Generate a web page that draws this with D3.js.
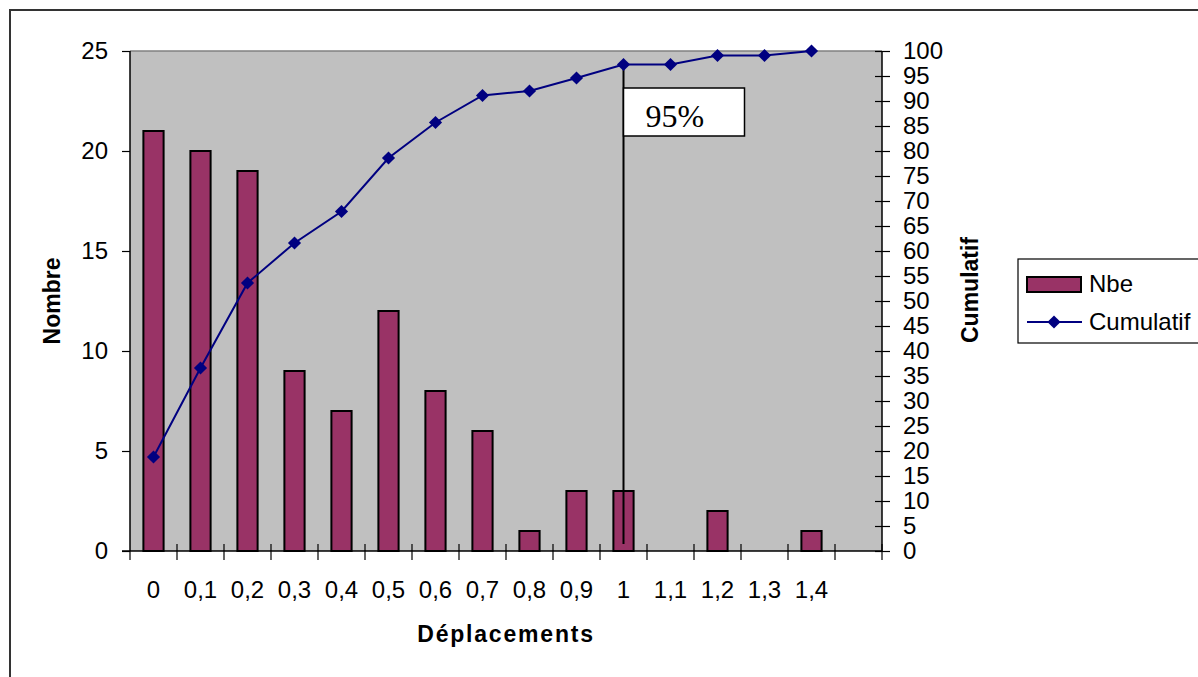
<!DOCTYPE html>
<html>
<head>
<meta charset="utf-8">
<script src="https://cdn.jsdelivr.net/npm/d3@7"></script>
<style>
  body { margin: 0; background: #fff; }
  text { font-family: "Liberation Sans", Arial, sans-serif; fill: #000; }
</style>
</head>
<body>
<div id="chart"></div>
<script>
// data
var categories = ["0", "0,1", "0,2", "0,3", "0,4", "0,5", "0,6", "0,7", "0,8", "0,9", "1", "1,1", "1,2", "1,3", "1,4", ""];
var nbe = [21, 20, 19, 9, 7, 12, 8, 6, 1, 3, 3, 0, 2, 0, 1];
var cumulatif = [18.8, 36.6, 53.6, 61.6, 67.9, 78.6, 85.7, 91.1, 92.0, 94.6, 97.3, 97.3, 99.1, 99.1, 100];
var leftTicks = [0, 5, 10, 15, 20, 25];
var rightTicks = d3.range(0, 101, 5);
var markerCat = "1";
var markerLabel = "95%";

var W = 1198, H = 677;
var plot = {left: 130, right: 882, top: 51, bottom: 551};

var svg = d3.select("#chart").append("svg")
  .attr("width", W).attr("height", H);

// outer frame
svg.append("rect")
  .attr("x", 10).attr("y", 10)
  .attr("width", W + 20).attr("height", H + 20)
  .attr("fill", "#fff").attr("stroke", "#333").attr("stroke-width", 2);

var x = d3.scaleBand()
  .domain(categories)
  .range([plot.left, plot.right])
  .paddingInner(0).paddingOuter(0);

var yL = d3.scaleLinear().domain([0, 25]).range([plot.bottom, plot.top]);
var yR = d3.scaleLinear().domain([0, 100]).range([plot.bottom, plot.top]);

// plot area
svg.append("rect")
  .attr("x", plot.left).attr("y", plot.top)
  .attr("width", plot.right - plot.left).attr("height", plot.bottom - plot.top)
  .attr("fill", "#c0c0c0");
svg.append("line")
  .attr("x1", plot.left).attr("x2", plot.right)
  .attr("y1", plot.top).attr("y2", plot.top)
  .attr("stroke", "#808080").attr("stroke-width", 1.5);

// bars
var barW = x.bandwidth() * 0.43;
svg.append("g").selectAll("rect")
  .data(nbe)
  .enter().append("rect")
    .attr("x", function(d, i) { return x(categories[i]) + (x.bandwidth() - barW) / 2; })
    .attr("y", function(d) { return yL(d); })
    .attr("width", barW)
    .attr("height", function(d) { return yL(0) - yL(d); })
    .attr("fill", "#993366")
    .attr("stroke", "#000")
    .attr("stroke-width", 2)
    .style("display", function(d) { return d > 0 ? null : "none"; });

// left axis
var gL = svg.append("g")
  .attr("transform", "translate(" + plot.left + ",0)")
  .call(d3.axisLeft(yL).tickValues(leftTicks).tickSize(8).tickPadding(14));
gL.select(".domain").remove();
gL.selectAll("line").attr("stroke", "#000").attr("stroke-width", 1.2);
gL.selectAll("text").style("font-size", "24px");
svg.append("line")
  .attr("x1", plot.left).attr("x2", plot.left)
  .attr("y1", plot.top).attr("y2", plot.bottom)
  .attr("stroke", "#000").attr("stroke-width", 1.5);

// right axis
var gR = svg.append("g")
  .attr("transform", "translate(" + plot.right + ",0)")
  .call(d3.axisRight(yR).tickValues(rightTicks).tickSize(8).tickPadding(13));
gR.select(".domain").remove();
gR.selectAll("line").attr("x1", -7).attr("stroke", "#000").attr("stroke-width", 1.2);
gR.selectAll("text").style("font-size", "24px");
svg.append("line")
  .attr("x1", plot.right).attr("x2", plot.right)
  .attr("y1", plot.top).attr("y2", plot.bottom)
  .attr("stroke", "#000").attr("stroke-width", 1.5);

// bottom axis: labels at band centres, ticks at band edges
var gB = svg.append("g")
  .attr("transform", "translate(0," + plot.bottom + ")")
  .call(d3.axisBottom(x).tickSize(0).tickPadding(30));
gB.select(".domain").remove();
gB.selectAll("text").style("font-size", "24px");
var edges = categories.map(function(c) { return x(c); }).concat([plot.right]);
svg.append("g").selectAll("line")
  .data(edges)
  .enter().append("line")
    .attr("x1", function(d) { return d; }).attr("x2", function(d) { return d; })
    .attr("y1", function(d, i) { return i == 0 ? plot.bottom : plot.bottom - 7; })
    .attr("y2", plot.bottom + 9)
    .attr("stroke", "#000").attr("stroke-width", 1.2);
svg.append("line")
  .attr("x1", plot.left - 8).attr("x2", plot.right)
  .attr("y1", plot.bottom).attr("y2", plot.bottom)
  .attr("stroke", "#000").attr("stroke-width", 1.5);

// cumulative line
var cx = function(d, i) { return x(categories[i]) + x.bandwidth() / 2; };
var line = d3.line()
  .x(cx)
  .y(function(d) { return yR(d); });
svg.append("path")
  .datum(cumulatif)
  .attr("d", line)
  .attr("fill", "none")
  .attr("stroke", "#000080")
  .attr("stroke-width", 2);

var diamond = d3.symbol().type(d3.symbolDiamond2).size(110);

// 95% marker line + box
var mi = categories.indexOf(markerCat);
var mx = x(markerCat) + x.bandwidth() / 2;
svg.append("line")
  .attr("x1", mx).attr("x2", mx)
  .attr("y1", yR(cumulatif[mi])).attr("y2", plot.bottom - 7)
  .attr("stroke", "#000").attr("stroke-width", 2);

svg.append("g").selectAll("path")
  .data(cumulatif)
  .enter().append("path")
    .attr("d", diamond)
    .attr("transform", function(d, i) { return "translate(" + cx(d, i) + "," + yR(d) + ")"; })
    .attr("fill", "#000080");

svg.append("rect")
  .attr("x", mx).attr("y", 88)
  .attr("width", 121).attr("height", 48)
  .attr("fill", "#fff").attr("stroke", "#000").attr("stroke-width", 1.5);
svg.append("text")
  .attr("x", mx + 22).attr("y", 127)
  .style("font-family", "'Liberation Serif', 'Times New Roman', serif")
  .style("font-size", "32px")
  .text(markerLabel);

// axis titles
svg.append("text")
  .attr("transform", "translate(60," + ((plot.top + plot.bottom) / 2) + ") rotate(-90)")
  .attr("text-anchor", "middle")
  .style("font-size", "23px").style("font-weight", "bold")
  .text("Nombre");
svg.append("text")
  .attr("transform", "translate(978,290) rotate(-90)")
  .attr("text-anchor", "middle")
  .style("font-size", "23px").style("font-weight", "bold")
  .text("Cumulatif");
svg.append("text")
  .attr("x", (plot.left + plot.right) / 2 + 0).attr("y", 642)
  .attr("text-anchor", "middle")
  .style("font-size", "23px").style("font-weight", "bold")
  .style("letter-spacing", "1.8px")
  .text("Déplacements");

// legend
var lg = svg.append("g").attr("transform", "translate(1018,259)");
lg.append("rect")
  .attr("width", 200).attr("height", 84)
  .attr("fill", "#fff").attr("stroke", "#000").attr("stroke-width", 1.2);
lg.append("rect")
  .attr("x", 9).attr("y", 18).attr("width", 54).attr("height", 15)
  .attr("fill", "#993366").attr("stroke", "#000").attr("stroke-width", 2);
lg.append("text")
  .attr("x", 71).attr("y", 33)
  .style("font-size", "24px")
  .text("Nbe");
lg.append("line")
  .attr("x1", 9).attr("x2", 64).attr("y1", 63).attr("y2", 63)
  .attr("stroke", "#000080").attr("stroke-width", 2);
lg.append("path")
  .attr("d", diamond)
  .attr("transform", "translate(36,63)")
  .attr("fill", "#000080");
lg.append("text")
  .attr("x", 71).attr("y", 71)
  .style("font-size", "24px")
  .text("Cumulatif");
</script>
</body>
</html>
